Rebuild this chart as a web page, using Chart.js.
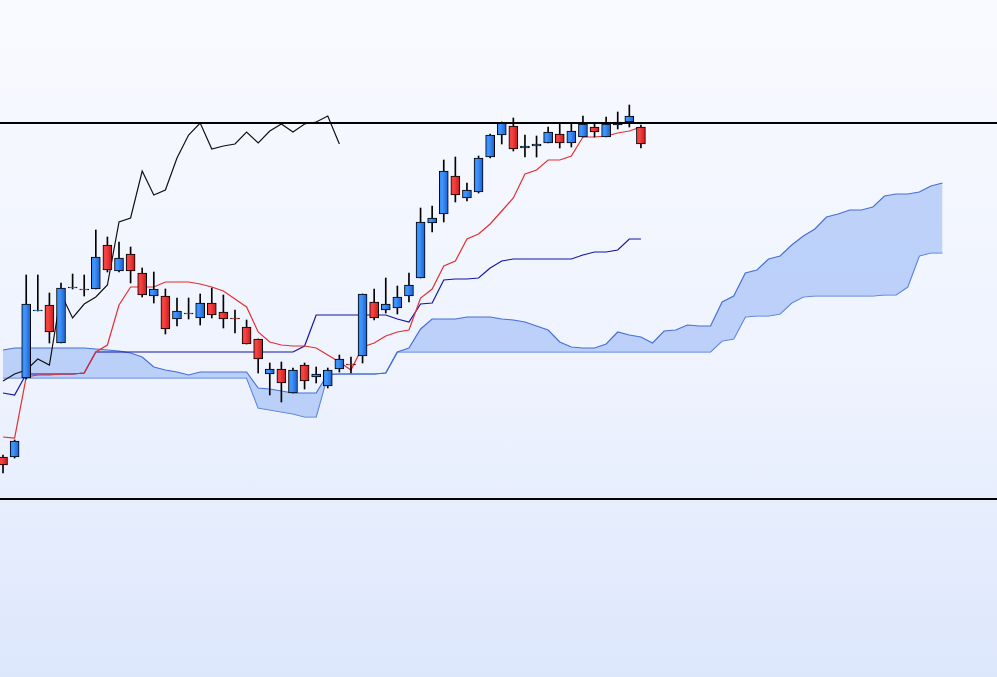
<!DOCTYPE html>
<html>
<head>
<meta charset="utf-8">
<script src="https://cdn.jsdelivr.net/npm/chart.js@4.4.1/dist/chart.umd.min.js"></script>
<style>
  html, body { margin: 0; padding: 0; overflow: hidden; }
  body { width: 997px; height: 677px; background: linear-gradient(to bottom, #f9faff 0%, #eef3fe 55%, #dde7fc 100%); }
  #wrap { position: relative; width: 997px; height: 677px; }
</style>
</head>
<body>
<div id="wrap"><canvas id="ichimoku"></canvas></div>
<script>
// candles, one per period
const opens  = [24.3, 24.3, 32.2, 38.9, 39.5, 35.7, 41.2, 41.1, 41.1, 45.5, 42.9, 44.6, 42.7, 40.4, 40.4, 38.1, 38.7, 38.2, 39.7, 38.8,
                38.2, 37.3, 36.1, 32.6, 33.1, 30.7, 33.5, 32.3, 31.4, 33.1, 33.6, 34.4, 39.8, 39.0, 39.2, 40.4, 42.2, 47.7, 48.6, 52.4,
                50.2, 50.8, 54.3, 56.5, 57.4, 55.2, 55.4, 55.7, 56.6, 55.7, 56.3, 57.3, 56.3, 57.5, 57.8, 57.3];
const highs  = [24.5, 26.0, 42.5, 42.5, 40.7, 41.7, 42.6, 42.5, 47.0, 46.3, 45.8, 45.3, 43.2, 42.8, 41.1, 40.2, 40.2, 40.6, 41.2, 40.5,
                39.0, 38.0, 36.1, 33.7, 33.8, 33.2, 33.7, 33.3, 33.2, 34.5, 34.3, 40.6, 41.1, 42.2, 41.4, 42.7, 49.2, 49.4, 54.0, 54.3,
                51.7, 54.4, 56.6, 57.8, 58.2, 56.5, 56.4, 57.3, 57.6, 57.6, 58.4, 57.6, 58.3, 58.8, 59.5, 57.5];
const lows   = [22.7, 24.2, 32.1, 38.9, 35.7, 35.7, 41.1, 40.4, 41.1, 42.8, 42.8, 41.7, 40.3, 39.7, 36.6, 37.4, 38.1, 37.5, 38.2, 37.2,
                36.7, 35.6, 32.7, 30.5, 29.8, 30.7, 31.1, 31.7, 31.2, 32.8, 32.7, 33.7, 38.0, 38.7, 38.6, 39.8, 42.2, 46.8, 47.8, 49.8,
                49.9, 50.7, 54.2, 55.6, 54.9, 54.3, 54.3, 55.7, 55.2, 55.3, 56.3, 56.3, 56.3, 57.1, 57.3, 55.2];
const closes = [23.5, 25.9, 39.6, 39.0, 36.8, 41.2, 41.3, 41.0, 44.3, 43.0, 44.2, 42.9, 40.5, 41.1, 37.1, 38.9, 38.6, 39.7, 38.5, 38.1,
                38.1, 35.6, 34.1, 33.1, 31.7, 33.0, 31.9, 32.6, 33.0, 34.1, 33.5, 40.6, 38.2, 39.6, 40.3, 41.5, 47.8, 48.2, 52.9, 50.5,
                51.0, 54.2, 56.5, 57.7, 55.1, 55.4, 55.6, 56.8, 55.7, 56.9, 57.6, 56.8, 57.6, 57.8, 58.4, 55.6];

// ichimoku lines
const tenkan = [26.3, 26.2, 32.3, 32.5, 32.5, 32.6, 32.6, 32.7, 34.8, 35.5, 39.5, 41.3, 41.3, 41.3, 41.8, 41.8, 41.8, 41.6, 41.3, 40.9,
                40.1, 39.3, 36.8, 35.8, 35.5, 35.4, 35.4, 35.2, 34.5, 33.8, 33.0, 35.3, 35.7, 36.4, 36.8, 37.0, 40.2, 41.1, 43.4, 43.9,
                46.1, 46.6, 47.6, 48.9, 50.2, 52.6, 53.0, 54.0, 54.0, 54.4, 56.3, 56.3, 56.4, 56.7, 56.9, 57.3];
const kijun  = [30.7, 30.5, 32.6, 32.6, 32.6, 32.6, 32.6, 32.7, 34.8, 34.8, 34.8, 34.8, 34.8, 34.8, 34.8, 34.8, 34.8, 34.8, 34.8, 34.8,
                34.8, 34.8, 34.8, 34.8, 34.8, 34.8, 35.4, 38.5, 38.5, 38.5, 38.5, 38.5, 38.5, 38.5, 38.1, 37.8, 39.6, 39.7, 42.0, 42.1,
                42.1, 42.2, 43.2, 43.9, 44.1, 44.1, 44.1, 44.1, 44.1, 44.1, 44.5, 44.8, 44.8, 45.0, 46.1, 46.1];
// cloud, runs 26 periods past the last candle
const spanA  = [35.0, 35.2, 35.2, 35.2, 35.2, 35.2, 35.2, 35.2, 35.1, 35.0, 34.9, 34.7, 34.3, 33.3, 33.0, 32.8, 32.5, 32.8, 32.8, 32.8,
                32.8, 32.8, 31.2, 31.1, 30.9, 30.7, 30.7, 30.7, 32.6, 32.6, 32.6, 32.6, 32.6, 32.7, 34.8, 35.2, 37.1, 38.1, 38.1, 38.1,
                38.3, 38.3, 38.3, 38.1, 38.0, 37.8, 37.4, 37.0, 35.8, 35.3, 35.2, 35.2, 35.6, 36.8, 36.5, 36.3, 35.7, 36.9, 37.0, 37.5,
                37.4, 37.4, 39.8, 40.4, 42.7, 43.0, 44.1, 44.4, 45.5, 46.4, 47.1, 48.3, 48.6, 49.0, 49.0, 49.3, 50.4, 50.6, 50.6, 50.8,
                51.4, 51.7];
const spanB  = [32.2, 32.2, 32.2, 32.2, 32.2, 32.2, 32.2, 32.2, 32.2, 32.2, 32.2, 32.2, 32.2, 32.2, 32.2, 32.2, 32.2, 32.2, 32.2, 32.2,
                32.2, 32.2, 29.2, 29.0, 28.8, 28.6, 28.3, 28.3, 32.5, 32.6, 32.6, 32.6, 32.6, 32.7, 34.8, 34.8, 34.8, 34.8, 34.8, 34.8,
                34.8, 34.8, 34.8, 34.8, 34.8, 34.8, 34.8, 34.8, 34.8, 34.8, 34.8, 34.8, 34.8, 34.8, 34.8, 34.8, 34.8, 34.8, 34.8, 34.8,
                34.8, 34.8, 35.9, 36.1, 38.3, 38.4, 38.4, 38.6, 39.7, 40.3, 40.4, 40.4, 40.4, 40.4, 40.4, 40.4, 40.5, 40.5, 41.3, 44.4,
                44.7, 44.7];
const shift = 26;
const levels = [57.7, 20.1];

const upStops = ['#3388f3', '#4096fb', '#1a5dcf'];
const downStops = ['#f23a3a', '#f44444', '#c81818'];

const pts = arr => arr.map((v, i) => ({ x: i, y: v }));
const chikou = closes.slice(shift).map((v, i) => ({ x: i, y: v }));
const bodies = opens.map((o, i) => ({ x: i, y: [o, closes[i]] }));
const wicks = lows.map((l, i) => ({ x: i, y: [l, highs[i]] }));

// horizontal shading on each candle body, lighter on the left
function bodyFill(context) {
  const chart = context.chart;
  const i = context.dataIndex;
  if (!chart.scales.x || i === undefined) return upStops[0];
  const stops = closes[i] >= opens[i] ? upStops : downStops;
  const cx = chart.scales.x.getPixelForValue(i);
  if (!isFinite(cx)) return stops[0];
  const g = chart.ctx.createLinearGradient(cx - 4.5, 0, cx + 4.5, 0);
  g.addColorStop(0, stops[0]);
  g.addColorStop(0.35, stops[1]);
  g.addColorStop(1, stops[2]);
  return g;
}

const levelLines = {
  id: 'levelLines',
  afterDatasetsDraw(chart) {
    const { ctx, chartArea, scales } = chart;
    ctx.save();
    ctx.strokeStyle = '#000';
    ctx.lineWidth = 2;
    levels.forEach(v => {
      const y = Math.round(scales.y.getPixelForValue(v));
      ctx.beginPath();
      ctx.moveTo(chartArea.left, y);
      ctx.lineTo(chartArea.right, y);
      ctx.stroke();
    });
    ctx.restore();
  }
};

const chartIchimoku = new Chart(document.getElementById('ichimoku'), {
  type: 'line',
  data: {
    datasets: [
      {
        label: 'Senkou A',
        data: pts(spanA),
        borderColor: '#4670d6',
        borderWidth: 1.2,
        backgroundColor: 'rgba(160, 189, 246, 0.65)',
        fill: '+1',
        pointRadius: 0,
        order: 10
      },
      {
        label: 'Senkou B',
        data: pts(spanB),
        borderColor: '#4670d6',
        borderWidth: 1.2,
        fill: false,
        pointRadius: 0,
        order: 10
      },
      {
        label: 'Chikou',
        data: chikou,
        borderColor: '#111',
        borderWidth: 1.2,
        pointRadius: 0,
        order: 5
      },
      {
        label: 'Kijun',
        data: pts(kijun),
        borderColor: '#1414a6',
        borderWidth: 1.2,
        pointRadius: 0,
        order: 4
      },
      {
        label: 'Tenkan',
        data: pts(tenkan),
        borderColor: '#e62e2e',
        borderWidth: 1.2,
        pointRadius: 0,
        order: 3
      },
      {
        type: 'bar',
        label: 'Wick',
        data: wicks,
        backgroundColor: '#000',
        barThickness: 1,
        grouped: false,
        order: 2
      },
      {
        type: 'bar',
        label: 'Body',
        data: bodies,
        backgroundColor: bodyFill,
        borderColor: '#000',
        borderWidth: 1,
        borderSkipped: false,
        barThickness: 9,
        grouped: false,
        order: 1
      }
    ]
  },
  options: {
    responsive: true,
    maintainAspectRatio: false,
    animation: false,
    layout: { padding: 0 },
    elements: { line: { tension: 0 } },
    plugins: {
      legend: { display: false },
      tooltip: { enabled: false }
    },
    scales: {
      x: { type: 'linear', min: -0.26, max: 85.7, offset: false, display: false },
      y: { type: 'linear', min: 2.3, max: 70, beginAtZero: false, display: false }
    }
  },
  plugins: [levelLines]
});
</script>
</body>
</html>
